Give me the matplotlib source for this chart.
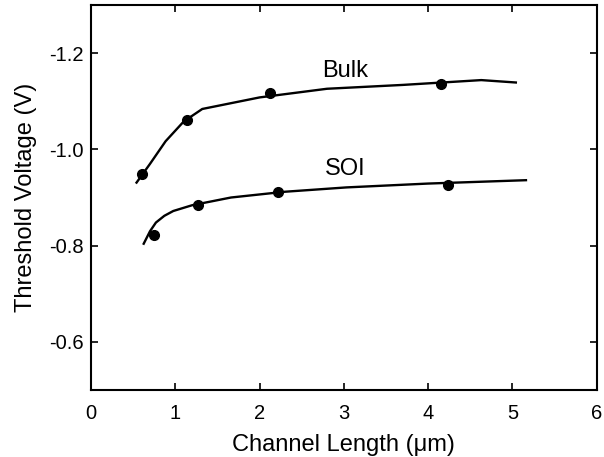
import matplotlib.pyplot as plt

plt.rcParams["font.family"] = ["Liberation Sans", "DejaVu Sans"]

# measured points (channel length in um, threshold voltage in V)
BULK_L = [0.60, 1.14, 2.12, 4.15]
BULK_VT = [-0.949, -1.062, -1.117, -1.136]
SOI_L = [0.744, 1.274, 2.224, 4.23]
SOI_VT = [-0.822, -0.885, -0.911, -0.927]

# fitted curves
BULK_FIT_L = [0.54, 0.70, 0.885, 1.10, 1.32, 2.00, 2.80, 3.70, 4.63, 5.04]
BULK_FIT_VT = [-0.931, -0.970, -1.017, -1.058, -1.084, -1.108, -1.126, -1.134, -1.144, -1.139]
SOI_FIT_L = [0.625, 0.70, 0.77, 0.87, 0.976, 1.20, 1.66, 2.30, 3.03, 4.00, 5.16]
SOI_FIT_VT = [-0.804, -0.830, -0.848, -0.862, -0.872, -0.884, -0.900, -0.912, -0.921, -0.929, -0.936]

fig = plt.figure(figsize=(6.04, 4.57), dpi=100)
ax = fig.add_axes([0.1507, 0.1466, 0.8373, 0.8424])

ax.plot(BULK_FIT_L, BULK_FIT_VT, color="black", lw=1.7)
ax.plot(SOI_FIT_L, SOI_FIT_VT, color="black", lw=1.7)
ax.plot(BULK_L, BULK_VT, "o", color="black", ms=7)
ax.plot(SOI_L, SOI_VT, "o", color="black", ms=7)

ax.text(3.01, -1.162, "Bulk", fontsize=17, ha="center", va="center")
ax.text(3.01, -0.96, "SOI", fontsize=17, ha="center", va="center")

ax.set_xlim(0, 6)
ax.set_ylim(-0.5, -1.3)
ax.set_xticks(range(7))
ax.set_yticks([-1.2, -1.0, -0.8, -0.6])
ax.set_yticklabels(["-1.2", "-1.0", "-0.8", "-0.6"])
ax.tick_params(direction="in", top=True, right=True, length=5, width=1.2,
               labelsize=14.5)
ax.tick_params(axis="x", pad=10)
ax.tick_params(axis="y", pad=5)
for s in ax.spines.values():
    s.set_linewidth(1.5)

ax.set_xlabel("Channel Length (\u03bcm)", fontsize=17, labelpad=8)
ax.set_ylabel("Threshold Voltage (V)", fontsize=17, labelpad=9)

fig.savefig("out.png", dpi=100)
